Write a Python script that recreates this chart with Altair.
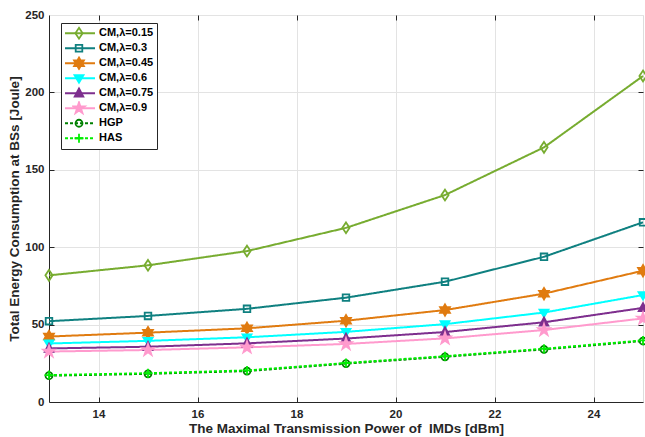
import altair as alt
import pandas as pd

# ---------------- data ----------------
power = [13, 15, 17, 19, 21, 23, 25]
series_names = ["CM,λ=0.15", "CM,λ=0.3", "CM,λ=0.45", "CM,λ=0.6",
                "CM,λ=0.75", "CM,λ=0.9", "HGP", "HAS"]
cm_015 = [81.8, 88.3, 97.5, 112.5, 133.7, 164.5, 210.6]
cm_03 = [52.2, 55.6, 60.2, 67.4, 77.7, 93.8, 116.1]
cm_045 = [42.3, 44.8, 47.6, 52.5, 59.4, 70.0, 84.8]
cm_06 = [37.8, 39.5, 41.8, 45.3, 50.3, 57.8, 69.1]
cm_075 = [34.6, 35.7, 37.9, 41.0, 45.2, 51.5, 60.8]
cm_09 = [32.6, 33.6, 35.3, 37.5, 41.1, 46.5, 54.0]
hgp = [17.0, 18.2, 20.0, 24.8, 29.2, 34.0, 39.4]
has = [17.4, 18.6, 20.4, 25.2, 29.6, 34.4, 39.8]
all_values = [cm_015, cm_03, cm_045, cm_06, cm_075, cm_09, hgp, has]

x_ticks = [14, 16, 18, 20, 22, 24]
y_ticks = [0, 50, 100, 150, 200, 250]

# ---------------- styles ----------------
colors = ["#77AC30", "#0F8080", "#E07B10", "#00FFFF",
          "#7E2F8E", "#FF9ACD", "#008000", "#00EE00"]
dashes = [[1, 0]] * 6 + [[3, 2], [3, 2]]
fills = ["transparent", "transparent", "#E07B10", "#00FFFF",
         "#7E2F8E", "#FF9ACD", "transparent", "transparent"]
paths = [
    "M0,-0.9L0.6,0L0,0.9L-0.6,0Z",                                  # diamond
    "M-0.55,-0.55H0.55V0.55H-0.55Z",                                # square
    "M0,-0.95L0.274,-0.475L0.823,-0.475L0.548,0L0.823,0.475L0.274,0.475"
    "L0,0.95L-0.274,0.475L-0.823,0.475L-0.548,0L-0.823,-0.475L-0.274,-0.475Z",  # hexagram
    "M-0.75,-0.5L0.75,-0.5L0,0.75Z",                                # triangle down
    "M0,-0.8L0.72,0.55L-0.72,0.55Z",                                # triangle up
    "M0,-1L0.225,-0.309L0.951,-0.309L0.363,0.118L0.588,0.809L0,0.382"
    "L-0.588,0.809L-0.363,0.118L-0.951,-0.309L-0.225,-0.309Z",      # pentagram
    "M0.58,0A0.58,0.58 0 1,1 -0.58,0A0.58,0.58 0 1,1 0.58,0Z",      # circle
    "M-0.75,0H0.75M0,-0.75V0.75",                                   # plus
]
keys = ["k%d" % i for i in range(len(series_names))]

rows = []
for name, key, vals in zip(series_names, keys, all_values):
    for p, v in zip(power, vals):
        rows.append({"power": p, "energy": v, "series": name, "key": key})
df = pd.DataFrame(rows)

FONT = "Liberation Sans"
AX = "#262626"
W, H = 594, 387

x_main = alt.X("power:Q", scale=alt.Scale(domain=[13, 25], nice=False, zero=False),
               axis=alt.Axis(values=x_ticks, title="The Maximal Transmission Power of \u00a0IMDs [dBm]",
                             labelFont=FONT, labelFontWeight="bold", labelFontSize=11.5, labelColor=AX,
                             titleFont=FONT, titleFontWeight="bold", titleFontSize=13.5, titleColor=AX,
                             titlePadding=2, labelPadding=6, ticks=False, domainColor=AX,
                             gridColor="#E3E3E3", grid=True, labelFlush=False))
y_main = alt.Y("energy:Q", scale=alt.Scale(domain=[0, 250], nice=False),
               axis=alt.Axis(values=y_ticks, title="Total Energy Consumption at BSs [Joule]",
                             labelFont=FONT, labelFontWeight="bold", labelFontSize=11.5, labelColor=AX,
                             titleFont=FONT, titleFontWeight="bold", titleFontSize=13.5, titleColor=AX,
                             titlePadding=3, labelPadding=5, ticks=False, domainColor=AX,
                             gridColor="#E3E3E3", grid=True, labelFlush=False))

def tick_axis(orient, values):
    return alt.Axis(orient=orient, values=values, labels=False, title=None, grid=False,
                    domain=False, ticks=True, tickSize=5, tickColor=AX, offset=-5, zindex=1)

legA = alt.Legend(title=None, orient="none", legendX=12, legendY=8, padding=3,
                  fillColor="white", strokeColor=AX, labelFont=FONT, labelFontWeight="bold",
                  labelFontSize=11, labelColor="black", symbolStrokeWidth=2, symbolSize=900,
                  clipHeight=14.5, rowPadding=0, labelOffset=3, zindex=1)
legB = alt.Legend(title=None, orient="none", legendX=20, legendY=8, padding=3,
                  labelExpr="''", labelFontSize=11, symbolSize=144, symbolStrokeWidth=1.8,
                  symbolOpacity=1, clipHeight=14.5, rowPadding=0, zindex=2)

base = alt.Chart(df)

lines = base.mark_line(strokeWidth=2).encode(
    x=x_main, y=y_main,
    color=alt.Color("series:N", scale=alt.Scale(domain=series_names, range=colors), legend=legA),
    strokeDash=alt.StrokeDash("series:N", scale=alt.Scale(domain=series_names, range=dashes), legend=legA),
)

points = base.mark_point(size=144, strokeWidth=1.8, opacity=1).encode(
    x=alt.X("power:Q", axis=tick_axis("bottom", x_ticks)),
    y=alt.Y("energy:Q", axis=tick_axis("left", [50, 100, 150, 200])),
    shape=alt.Shape("key:N", scale=alt.Scale(domain=keys, range=paths), legend=legB),
    stroke=alt.Stroke("key:N", scale=alt.Scale(domain=keys, range=colors), legend=legB),
    fill=alt.Fill("key:N", scale=alt.Scale(domain=keys, range=fills), legend=legB),
)

frame = base.mark_point(opacity=0).encode(
    x=alt.X("power:Q", axis=tick_axis("top", x_ticks)),
    y=alt.Y("energy:Q", axis=tick_axis("right", [50, 100, 150, 200])),
)

chart = alt.layer(lines, points, frame).resolve_axis(
    x="independent", y="independent"
).properties(
    width=W, height=H,
    autosize=alt.AutoSizeParams(type="none"),
    padding={"left": 49, "top": 15, "right": 2, "bottom": 35},
).configure_view(stroke=AX, strokeWidth=1).configure(background="white")

chart.save("out.html", embed_options={"renderer": "svg", "actions": False})
